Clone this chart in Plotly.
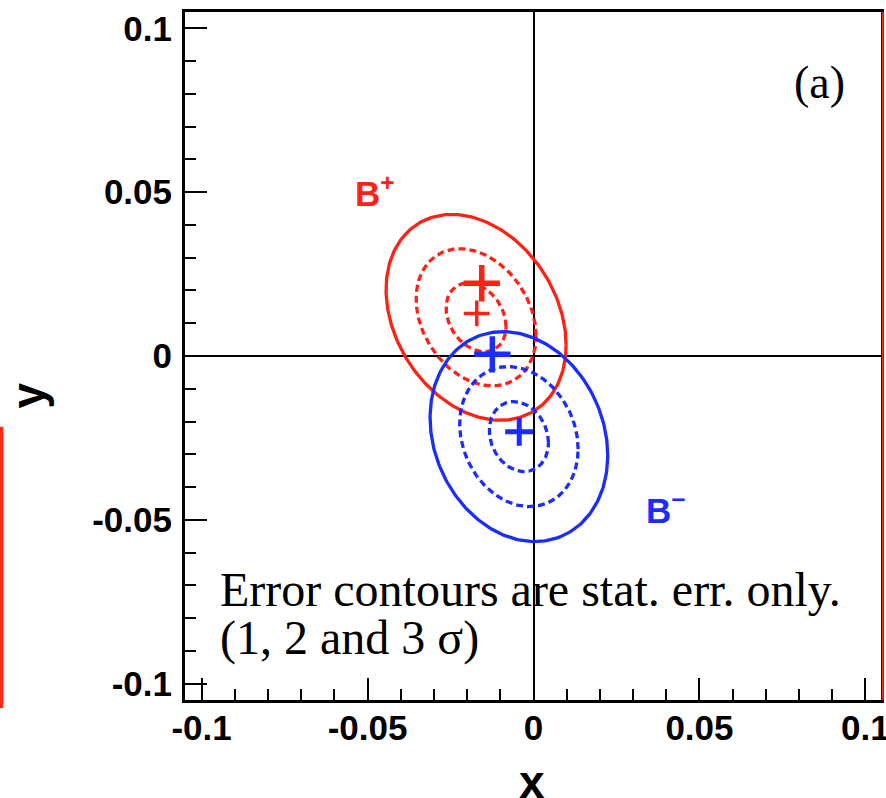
import numpy as np
import plotly.graph_objects as go

# ---- data ----
levels = [1, 2, 3]                      # n-sigma contour levels
level_dash = ["7px,4px", "7px,4px", "solid"]

bplus_fit_x = [-0.0171]
bplus_fit_y = [0.0130]
bplus_center = [-0.0173, 0.0118]
bplus_sigma = [0.00904, 0.01047]
bplus_rho = -0.27

bminus_fit_x = [-0.0043]
bminus_fit_y = [-0.0231]
bminus_center = [-0.0044, -0.0246]
bminus_sigma = [0.00892, 0.01068]
bminus_rho = -0.18

# large crosses (other measurement)
bplus_ref_x = [-0.0156]
bplus_ref_y = [0.0222]
bminus_ref_x = [-0.0124]
bminus_ref_y = [0.0005]

tick_values = [-0.1, -0.05, 0, 0.05, 0.1]
tick_labels = ["-0.1", "-0.05", "0", "0.05", "0.1"]

RED = "#ff2214"
BLUE = "#1a2cff"

t = np.linspace(0, 2 * np.pi, 241)


def contour(center, sigma, rho, k):
    x = center[0] + k * sigma[0] * np.cos(t)
    y = center[1] + k * sigma[1] * (rho * np.cos(t) + np.sqrt(1 - rho ** 2) * np.sin(t))
    return x, y


fig = go.Figure()

for center, sigma, rho, color in [
    (bplus_center, bplus_sigma, bplus_rho, RED),
    (bminus_center, bminus_sigma, bminus_rho, BLUE),
]:
    for k, dash in zip(levels, level_dash):
        x, y = contour(center, sigma, rho, k)
        fig.add_trace(go.Scatter(x=x, y=y, mode="lines",
                                 line=dict(color=color, width=3.3, dash=dash),
                                 hoverinfo="skip", showlegend=False))

# crosses
fig.add_trace(go.Scatter(x=bplus_ref_x, y=bplus_ref_y, mode="markers",
                         marker=dict(symbol="cross-thin", size=26,
                                     line=dict(color=RED, width=5.5)),
                         showlegend=False))
fig.add_trace(go.Scatter(x=bminus_ref_x, y=bminus_ref_y, mode="markers",
                         marker=dict(symbol="cross-thin", size=26,
                                     line=dict(color=BLUE, width=5.5)),
                         showlegend=False))
fig.add_trace(go.Scatter(x=bplus_fit_x, y=bplus_fit_y, mode="markers",
                         marker=dict(symbol="cross-thin", size=18.5,
                                     line=dict(color=RED, width=3.5)),
                         showlegend=False))
fig.add_trace(go.Scatter(x=bminus_fit_x, y=bminus_fit_y, mode="markers",
                         marker=dict(symbol="cross-thin", size=20,
                                     line=dict(color=BLUE, width=5)),
                         showlegend=False))

tickfont = dict(family="Liberation Sans", size=35, color="black", weight="bold")
axis_common = dict(
    showgrid=False,
    zeroline=True, zerolinecolor="black", zerolinewidth=2,
    showline=True, linecolor="black", linewidth=3, mirror=True,
    ticks="inside", ticklen=22, tickwidth=2, tickcolor="black",
    minor=dict(ticks="inside", ticklen=11, tickwidth=2, tickcolor="black",
               dtick=0.01, tick0=0, showgrid=False),
    tickfont=tickfont,
    tickvals=tick_values, ticktext=tick_labels,
    ticklabeloverflow="allow",
    automargin=False,
)

fig.update_xaxes(range=[-0.105, 0.1047], ticklabelstandoff=-5, **axis_common)
fig.update_yaxes(range=[-0.105, 0.105], ticklabelstandoff=3, **axis_common)

title_font = dict(family="Liberation Sans", size=46, color="black", weight="bold")

annotations = [
    # axis titles
    dict(x=0.4985, y=-0.1195, xref="paper", yref="paper", xanchor="center", yanchor="middle",
         text="x", showarrow=False, font=title_font),
    dict(x=-0.226, y=0.442, xref="paper", yref="paper", xanchor="center", yanchor="middle",
         text="y", showarrow=False, textangle=-90, font=title_font),
    dict(x=-0.0543, y=0.0505, xref="x", yref="y", xanchor="left", yanchor="middle",
         text="B<sup>+</sup>", showarrow=False,
         font=dict(family="Liberation Sans", size=35, color=RED, weight="bold")),
    dict(x=0.0334, y=-0.0465, xref="x", yref="y", xanchor="left", yanchor="middle",
         text="B<sup>\u2212</sup>", showarrow=False,
         font=dict(family="Liberation Sans", size=35, color=BLUE, weight="bold")),
    dict(x=0.0862, y=0.0836, xref="x", yref="y", xanchor="center", yanchor="middle",
         text="(a)", showarrow=False,
         font=dict(family="Liberation Serif", size=46, color="black")),
    dict(x=-0.0950, y=-0.0712, xref="x", yref="y", xanchor="left", yanchor="middle",
         text="Error contours are stat. err. only.", showarrow=False,
         font=dict(family="Liberation Serif", size=48, color="black")),
    dict(x=-0.0950, y=-0.0862, xref="x", yref="y", xanchor="left", yanchor="middle",
         text="(1, 2 and 3 \u03c3)", showarrow=False,
         font=dict(family="Liberation Serif", size=48, color="black")),
]

shapes = [
    # red strip at left edge (neighbouring panel)
    dict(type="rect", xref="paper", yref="paper", x0=-0.2658, x1=-0.2611,
         y0=-0.0116, y1=0.3972, fillcolor="#ff2a14", line=dict(width=0)),
    # red line at right edge
    dict(type="line", xref="paper", yref="paper", x0=1.0025, x1=1.0025,
         y0=0, y1=1.0, line=dict(color="#ff2a14", width=2)),
]

fig.update_layout(
    width=886, height=798,
    margin=dict(l=185, r=5, t=12, b=98, autoexpand=False),
    paper_bgcolor="white", plot_bgcolor="white",
    annotations=annotations, shapes=shapes,
    showlegend=False,
)

fig.write_html("out.html")
